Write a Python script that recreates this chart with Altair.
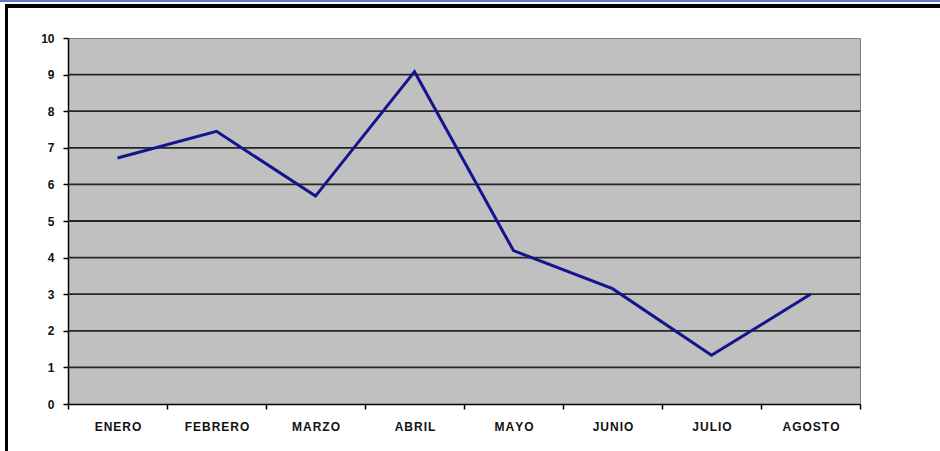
import altair as alt
import pandas as pd

# Monthly values
months = ["ENERO", "FEBRERO", "MARZO", "ABRIL", "MAYO", "JUNIO", "JULIO", "AGOSTO"]
values = [6.72, 7.45, 5.68, 9.08, 4.19, 3.15, 1.33, 3.0]

# Horizontal gridlines inside the plot
grid_levels = [1, 2, 3, 4, 5, 6, 7, 8, 9]
y_ticks = [0, 1, 2, 3, 4, 5, 6, 7, 8, 9, 10]

df = pd.DataFrame({"mes": months, "valor": values})
grid_df = pd.DataFrame({"nivel": grid_levels})

FONT = "Liberation Sans"
W, H = 792, 366

x_enc = alt.X(
    "mes:N",
    sort=months,
    title=None,
    scale=alt.Scale(type="band", paddingInner=0, paddingOuter=0),
    axis=alt.Axis(
        tickBand="extent",
        labelAngle=0,
        labelFont=FONT,
        labelFontSize=12,
        labelFontWeight="bold",
        labelColor="#111111",
        labelPadding=12,
        labelOverlap=False,
        # spaced-out lettering
        labelExpr="join(split(datum.label, ''), '\u200a')",
        tickColor="#000000",
        tickSize=5,
        tickWidth=1.5,
        domainColor="#000000",
        domainWidth=1.5,
        grid=False,
    ),
)

y_scale = alt.Scale(domain=[0, 10], nice=False, zero=True)
y_axis = alt.Axis(
    values=y_ticks,
    tickCount=11,
    labelFont=FONT,
    labelFontSize=12,
    labelFontWeight="bold",
    labelColor="#111111",
    labelPadding=9,
    labelOverlap=False,
    tickColor="#000000",
    tickSize=5,
    tickWidth=1.5,
    domainColor="#000000",
    domainWidth=1.5,
    grid=False,
)

line = alt.Chart(df).mark_line(color="#14148c", strokeWidth=3).encode(
    x=x_enc,
    y=alt.Y("valor:Q", scale=y_scale, title=None, axis=y_axis),
)

grid = alt.Chart(grid_df).mark_rule(color="#262626", strokeWidth=1.8).encode(
    y=alt.Y("nivel:Q", scale=y_scale, title=None, axis=y_axis),
)

# Outer frame: thin blue line on top, heavy black border top and left
blue_top = alt.Chart(grid_df).mark_rule(color="#5b7cc0", strokeWidth=2).encode(
    x=alt.value(-68), x2=alt.value(W + 80), y=alt.value(-37.5)
)
black_top = alt.Chart(grid_df).mark_rule(color="#000000", strokeWidth=3).encode(
    x=alt.value(-63), x2=alt.value(W + 80), y=alt.value(-32)
)
black_left = alt.Chart(grid_df).mark_rule(color="#000000", strokeWidth=3).encode(
    x=alt.value(-61.5), y=alt.value(-33.5), y2=alt.value(H + 47)
)

chart = (
    alt.layer(grid, line, blue_top, black_top, black_left)
    .properties(
        width=W,
        height=H,
        autosize=alt.AutoSizeParams(type="none"),
        padding={"left": 68, "top": 38, "right": 80, "bottom": 47},
        background="#ffffff",
    )
    .configure_view(fill="#c0c0c0", stroke="#7a7a7a", strokeWidth=1)
)

chart.save("out.html", embed_options={"renderer": "svg", "actions": False})
